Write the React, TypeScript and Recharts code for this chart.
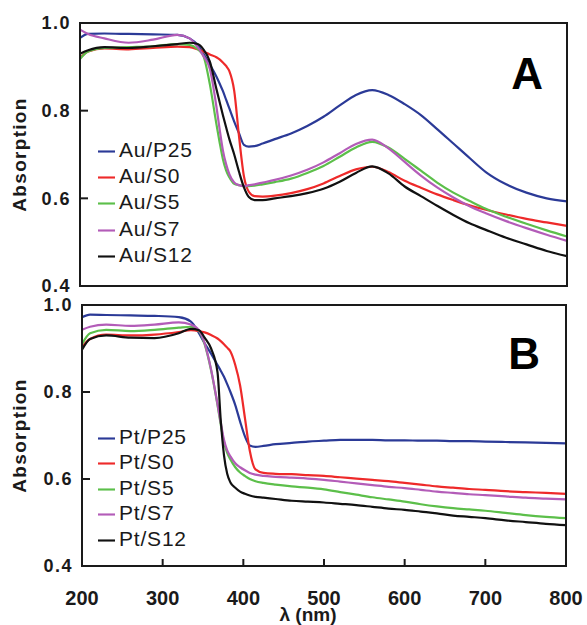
import React from "react";
import { LineChart, Line, XAxis, YAxis, Legend, ReferenceArea } from "recharts";

const wavelengths = [200, 210, 230, 260, 290, 320, 335, 345, 352, 360, 368, 372, 376, 380, 384, 390, 396, 402, 408, 415, 425, 440, 460, 480, 500, 520, 540, 560, 580, 600, 620, 640, 660, 680, 700, 725, 750, 775, 800];

const auP25 = [0.966, 0.975, 0.976, 0.975, 0.974, 0.973, 0.965, 0.950, 0.930, 0.905, 0.878, 0.862, 0.845, 0.825, 0.805, 0.775, 0.748, 0.722, 0.718, 0.719, 0.725, 0.735, 0.748, 0.765, 0.786, 0.812, 0.836, 0.847, 0.836, 0.815, 0.790, 0.758, 0.725, 0.692, 0.660, 0.632, 0.613, 0.600, 0.593];
const auS0 = [0.920, 0.935, 0.942, 0.940, 0.943, 0.946, 0.945, 0.940, 0.935, 0.928, 0.922, 0.917, 0.910, 0.902, 0.890, 0.845, 0.740, 0.650, 0.615, 0.605, 0.604, 0.606, 0.612, 0.621, 0.634, 0.651, 0.666, 0.672, 0.660, 0.640, 0.624, 0.609, 0.596, 0.584, 0.574, 0.563, 0.553, 0.545, 0.537];
const auS5 = [0.918, 0.935, 0.943, 0.945, 0.947, 0.952, 0.950, 0.940, 0.925, 0.860, 0.770, 0.728, 0.690, 0.664, 0.648, 0.633, 0.630, 0.628, 0.628, 0.629, 0.632, 0.637, 0.645, 0.658, 0.674, 0.695, 0.716, 0.729, 0.716, 0.690, 0.663, 0.636, 0.613, 0.594, 0.576, 0.558, 0.542, 0.527, 0.513];
const auS7 = [0.985, 0.975, 0.965, 0.955, 0.962, 0.973, 0.965, 0.945, 0.925, 0.895, 0.810, 0.758, 0.710, 0.678, 0.655, 0.636, 0.630, 0.628, 0.630, 0.632, 0.636, 0.642, 0.652, 0.665, 0.682, 0.703, 0.724, 0.734, 0.714, 0.683, 0.652, 0.625, 0.602, 0.582, 0.566, 0.548, 0.532, 0.517, 0.503];
const auS12 = [0.930, 0.938, 0.945, 0.943, 0.947, 0.952, 0.955, 0.952, 0.940, 0.912, 0.850, 0.820, 0.790, 0.762, 0.735, 0.700, 0.660, 0.625, 0.603, 0.596, 0.596, 0.600, 0.605, 0.612, 0.622, 0.638, 0.658, 0.673, 0.657, 0.627, 0.605, 0.583, 0.562, 0.543, 0.528, 0.510, 0.495, 0.480, 0.468];

const ptP25 = [0.972, 0.978, 0.977, 0.976, 0.975, 0.972, 0.962, 0.935, 0.912, 0.888, 0.862, 0.849, 0.835, 0.818, 0.800, 0.770, 0.732, 0.698, 0.677, 0.674, 0.676, 0.680, 0.683, 0.686, 0.688, 0.690, 0.690, 0.690, 0.689, 0.689, 0.688, 0.688, 0.687, 0.687, 0.686, 0.685, 0.684, 0.683, 0.682];
const ptS0 = [0.904, 0.922, 0.932, 0.930, 0.932, 0.938, 0.942, 0.940, 0.937, 0.931, 0.923, 0.917, 0.910, 0.902, 0.893, 0.862, 0.815, 0.740, 0.665, 0.622, 0.614, 0.612, 0.611, 0.609, 0.607, 0.604, 0.601, 0.598, 0.595, 0.591, 0.587, 0.583, 0.580, 0.577, 0.575, 0.572, 0.570, 0.568, 0.566];
const ptS5 = [0.910, 0.935, 0.943, 0.940, 0.943, 0.948, 0.950, 0.940, 0.910, 0.850, 0.770, 0.725, 0.685, 0.660, 0.645, 0.627, 0.615, 0.607, 0.600, 0.595, 0.591, 0.587, 0.583, 0.580, 0.576, 0.570, 0.564, 0.558, 0.553, 0.548, 0.542, 0.537, 0.533, 0.530, 0.527, 0.522, 0.517, 0.513, 0.510];
const ptS7 = [0.943, 0.950, 0.955, 0.952, 0.955, 0.960, 0.955, 0.942, 0.912, 0.852, 0.772, 0.730, 0.690, 0.666, 0.652, 0.636, 0.627, 0.620, 0.614, 0.610, 0.607, 0.605, 0.603, 0.601, 0.598, 0.594, 0.590, 0.586, 0.582, 0.579, 0.575, 0.571, 0.568, 0.565, 0.563, 0.560, 0.557, 0.555, 0.553];
const ptS12 = [0.897, 0.922, 0.930, 0.925, 0.924, 0.935, 0.945, 0.942, 0.925, 0.900, 0.845, 0.735, 0.655, 0.612, 0.592, 0.580, 0.571, 0.566, 0.562, 0.559, 0.557, 0.554, 0.550, 0.548, 0.546, 0.543, 0.540, 0.536, 0.532, 0.529, 0.525, 0.521, 0.516, 0.513, 0.510, 0.505, 0.501, 0.497, 0.494];

const auNames = ["Au/P25", "Au/S0", "Au/S5", "Au/S7", "Au/S12"];
const ptNames = ["Pt/P25", "Pt/S0", "Pt/S5", "Pt/S7", "Pt/S12"];
const colors = ["#2B3A97", "#EE2A2A", "#5CBF4A", "#B35CB8", "#111111"];
const xTicks = [200, 300, 400, 500, 600, 700, 800];
const yTicks = [0.4, 0.6, 0.8, 1.0];

const auSeries = [auP25, auS0, auS5, auS7, auS12];
const ptSeries = [ptP25, ptS0, ptS5, ptS7, ptS12];

const buildRows = (names: string[], series: number[][]) =>
  wavelengths.map((w, i) => {
    const row: Record<string, number> = { wl: w };
    names.forEach((n, k) => {
      row[n] = series[k][i];
    });
    return row;
  });

const auRows = buildRows(auNames, auSeries);
const ptRows = buildRows(ptNames, ptSeries);

const FONT = "'Liberation Sans', Arial, Helvetica, sans-serif";
const INK = "#1a1a1a";

const YTick = (props: any) => {
  const { x, y, payload } = props;
  return (
    <text x={x} y={y} dy="0.36em" textAnchor="end" fontSize={18} fontWeight="bold" fontFamily={FONT} letterSpacing={1.5} fill={INK}>
      {Number(payload.value).toFixed(1)}
    </text>
  );
};

const XTick = (props: any) => {
  const { x, y, payload } = props;
  return (
    <text x={x} y={y} dy="0.71em" textAnchor="middle" fontSize={20} fontWeight="bold" fontFamily={FONT} fill={INK}>
      {payload.value}
    </text>
  );
};

const axisLine = { stroke: INK, strokeWidth: 2 };
const tickLine = { stroke: INK, strokeWidth: 2 };

const Panel = ({ rows, names, letter, bottom, yAxisWidth, right, legendTop, legendLine, letterOffset, letterDx }: any) => {
  const height = bottom ? 343 : 300;
  return (
    <LineChart
      width={587}
      height={height}
      data={rows}
      margin={{ top: 23, right, bottom: bottom ? 4 : 13, left: 10 }}
    >
      <XAxis
        dataKey="wl"
        type="number"
        domain={[200, 800]}
        ticks={xTicks}
        interval={0}
        height={bottom ? 55 : 1}
        axisLine={axisLine}
        tickLine={tickLine}
        tickSize={-7}
        tickMargin={32}
        tick={bottom ? <XTick /> : false}
        label={
          bottom
            ? {
                value: "λ (nm)",
                position: "insideBottom",
                offset: 6,
                dx: -16,
                dy: 6,
                style: { fontSize: 19, fontWeight: "bold", fontFamily: FONT, fill: INK },
              }
            : undefined
        }
      />
      <YAxis
        type="number"
        domain={[0.4, 1.0]}
        ticks={yTicks}
        interval={0}
        width={yAxisWidth}
        axisLine={axisLine}
        tickLine={tickLine}
        tickSize={-8}
        tickMargin={17}
        tick={<YTick />}
        label={{
          value: "Absorption",
          angle: -90,
          position: "insideLeft",
          offset: 9,
          style: { textAnchor: "middle", fontSize: 19, fontWeight: "bold", fontFamily: FONT, fill: INK, letterSpacing: 1.3 },
        }}
      />
      <ReferenceArea
        x1={200}
        x2={800}
        y1={0.4}
        y2={1.0}
        fill="none"
        fillOpacity={0}
        stroke={INK}
        strokeWidth={2}
        ifOverflow="visible"
        label={{
          value: letter,
          position: "insideTopRight",
          offset: letterOffset,
          dx: letterDx,
          style: { fontSize: 44, fontWeight: "bold", fontFamily: FONT, fill: "#000" },
        }}
      />
      {names.map((n: string, k: number) => (
        <Line
          key={n}
          dataKey={n}
          name={n}
          type="monotone"
          stroke={colors[k]}
          strokeWidth={2.2}
          dot={false}
          activeDot={false}
          legendType="plainline"
          isAnimationActive={false}
        />
      ))}
      <Legend
        layout="vertical"
        align="center"
        verticalAlign="middle"
        iconType="plainline"
        iconSize={17}
        itemSorter={(item: any) => names.indexOf(item.value)}
        wrapperStyle={{
          left: 98,
          top: legendTop,
          width: 150,
          lineHeight: `${legendLine}px`,
          fontSize: 21,
          fontFamily: FONT,
          letterSpacing: 0.8,
        }}
        formatter={(v: any) => <span style={{ color: INK }}>{v}</span>}
      />
    </LineChart>
  );
};

const frameStyle = (left: number, top: number, width: number, height: number): React.CSSProperties => ({
  position: "absolute",
  left,
  top,
  width,
  height,
  boxSizing: "border-box",
  borderTop: `2px solid ${INK}`,
  borderRight: `2px solid ${INK}`,
  pointerEvents: "none",
});

export default function App() {
  return (
    <div style={{ position: "absolute", left: 0, top: 0, width: 587, height: 625, background: "#fff" }}>
      <div style={{ position: "absolute", left: 0, top: 0 }}>
        <Panel rows={auRows} names={auNames} letter="A" bottom={false} yAxisWidth={70} right={20} legendTop={137} legendLine={26.2} letterOffset={35} letterDx={11} />
      </div>
      <div style={{ position: "absolute", left: 0, top: 282 }}>
        <Panel rows={ptRows} names={ptNames} letter="B" bottom={true} yAxisWidth={72} right={21} legendTop={142} legendLine={25.4} letterOffset={33} letterDx={7} />
      </div>
      <div style={frameStyle(79, 22, 489, 265)} />
      <div style={frameStyle(81, 304, 486, 263)} />
    </div>
  );
}
